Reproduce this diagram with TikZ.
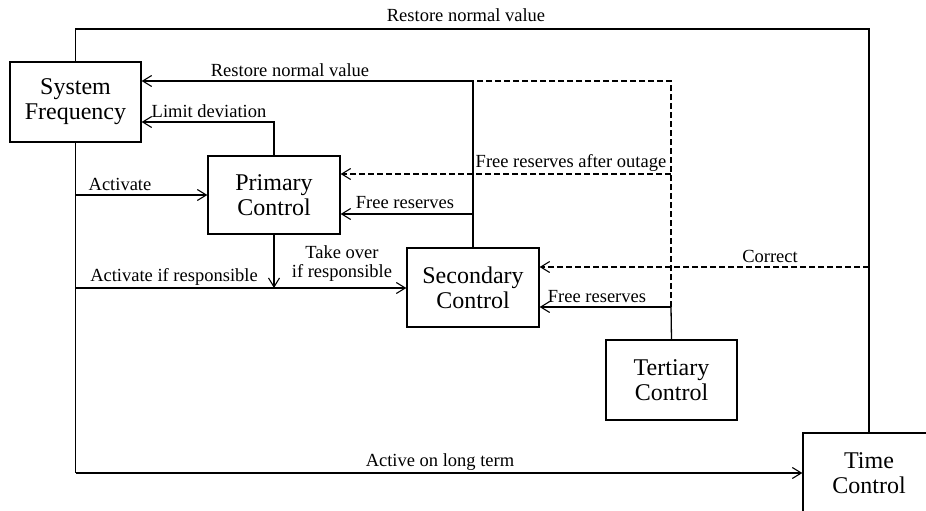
\documentclass[tikz,border=0pt]{standalone}
\usepackage{fontspec}
\setmainfont{Liberation Serif}
\usetikzlibrary{arrows.meta}
\begin{document}
\begin{tikzpicture}[x=1pt,y=-1pt,
  line width=1.3pt,
  box/.style={draw, align=center, inner sep=0pt, font=\fontsize{24}{25}\selectfont},
  lbl/.style={inner sep=0pt, align=center, font=\fontsize{18.5}{19}\selectfont},
  arr/.style={-{Straight Barb[length=9pt,width=11pt,line width=1.1pt]}},
  dashline/.style={dash pattern=on 6pt off 3pt}]
\useasboundingbox (0,0) rectangle (926,511);

% control blocks
\node[box, minimum width=131pt, minimum height=80pt] (sf) at (75.5,102) {System\\Frequency};
\node[box, minimum width=132pt, minimum height=78pt] (pc) at (274,195) {Primary\\Control};
\node[box, minimum width=132pt, minimum height=79pt] (sc) at (473,287.5) {Secondary\\Control};
\node[box, minimum width=131pt, minimum height=80pt] (tc) at (671.5,380) {Tertiary\\Control};
\node[box, minimum width=132pt, minimum height=80pt] (tm) at (869,473) {Time\\Control};

% junction points
\coordinate (top) at (869,29);
\coordinate (j1) at (473,81);
\coordinate (j2) at (473,214);
\coordinate (j3) at (671,81);
\coordinate (j4) at (671,307);
\coordinate (j5) at (671,174);
\coordinate (j6) at (869,267);
\coordinate (j7) at (274,122);
\coordinate (b1) at (75.5,195);
\coordinate (b2) at (75.5,288);
\coordinate (b3) at (75.5,473);
\coordinate (p1) at (274,288);

% time control back to system frequency
\draw (tm.north) -- (top) -| (sf.north);
\node[lbl] (l1) at (466,15) {Restore normal value};

% secondary control
\draw (sc.north) -- (j1);
\draw[arr] (j1) -- (sf.east |- j1);
\node[lbl] (l2) at (290,70) {Restore normal value};
\draw[arr] (j2) -- (pc.east |- j2);
\node[lbl] (l3) at (405,203) {Free reserves};

% tertiary control
\draw (tc.north) -- (j4);
\draw[dashline] (j4) -- (j3) -- (j1);
\draw[arr] (j4) -- (sc.east |- j4);
\node[lbl] (l4) at (597,297) {Free reserves};
\draw[arr, dashline] (j5) -- (pc.east |- j5);
\node[lbl] (l5) at (571,163) {Free reserves after outage};

% time control correction
\draw[arr, dashline] (j6) -- (sc.east |- j6);
\node[lbl] (l6) at (770,256) {Correct};

% primary control
\draw[arr] (pc.north) -- (j7) -- (sf.east |- j7);
\node[lbl] (l7) at (209,111) {Limit deviation};
\draw[arr] (pc.south) -- (p1);

% system frequency activations
\draw (sf.south) -- (b3);
\draw[arr] (b1) -- (pc.west |- b1);
\node[lbl] (l8) at (120,184) {Activate};
\draw[arr] (b2) -- (sc.west |- b2);
\node[lbl] (l9) at (174,277) {Activate if responsible};
\node[lbl] (l10) at (342,264) {Take over\\if responsible};
\draw[arr] (b3) -- (tm.west |- b3);
\node[lbl] (l11) at (440,462) {Active on long term};
\end{tikzpicture}
\end{document}
